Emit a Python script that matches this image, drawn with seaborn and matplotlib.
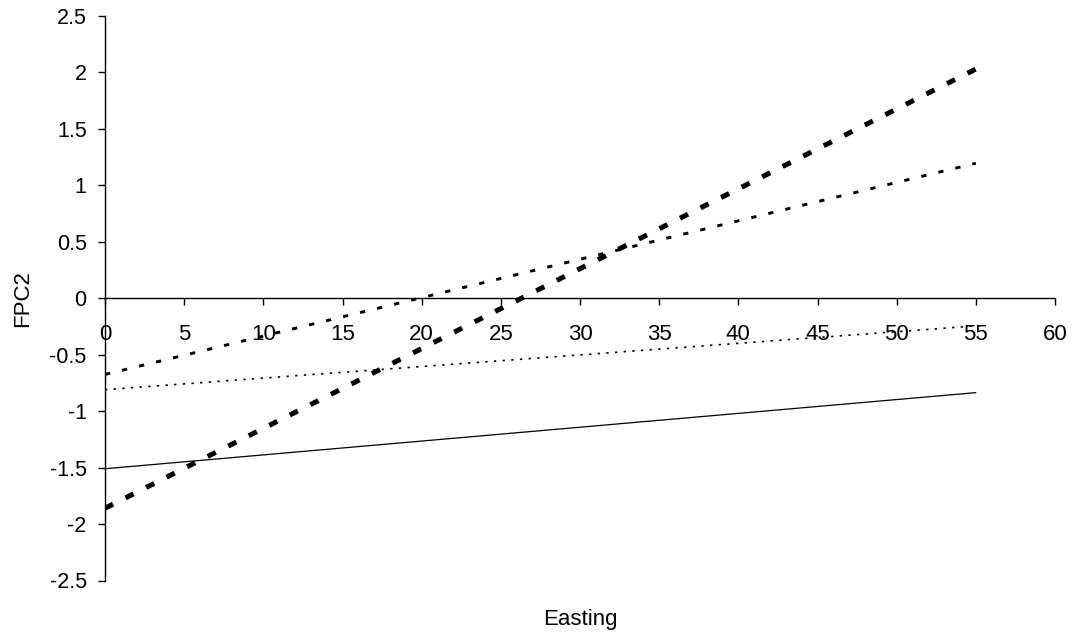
import numpy as np
import pandas as pd
import matplotlib
matplotlib.use("Agg")
import matplotlib.pyplot as plt
import seaborn as sns

# line end points (Easting 0 and 55)
easting = [0, 55]
fpc2_thick_dash = [-1.86, 2.03]
fpc2_dash = [-0.675, 1.196]
fpc2_dot = [-0.81, -0.245]
fpc2_solid = [-1.51, -0.836]

x_ticks = list(range(0, 65, 5))
y_ticks = [-2.5, -2, -1.5, -1, -0.5, 0, 0.5, 1, 1.5, 2, 2.5]
y_tick_labels = ["-2.5", "-2", "-1.5", "-1", "-0.5", "0", "0.5", "1", "1.5", "2", "2.5"]

sns.set_style("ticks")
plt.rcParams['font.family'] = ['Liberation Sans', 'DejaVu Sans']
plt.rcParams['text.color'] = 'black'
plt.rcParams['axes.labelcolor'] = 'black'

fig = plt.figure(figsize=(10.79, 6.39), dpi=100)
ax = fig.add_axes([105 / 1079, 1 - 580.5 / 639, 950 / 1079, 564.5 / 639])

series = [
    (fpc2_solid, dict(color="black", linewidth=0.9, linestyle="-")),
    (fpc2_dot, dict(color="black", linewidth=1.2, linestyle=(0, (1.4, 3.8)))),
    (fpc2_dash, dict(color="black", linewidth=2.1, linestyle=(0, (1.8, 4.2)))),
    (fpc2_thick_dash, dict(color="black", linewidth=3.6, linestyle=(0, (1.8, 2.8)))),
]
for vals, style in series:
    df = pd.DataFrame({"Easting": easting, "FPC2": vals})
    sns.lineplot(data=df, x="Easting", y="FPC2", ax=ax, **style)

ax.set_xlim(0, 60)
ax.set_ylim(-2.5, 2.5)
ax.set_xticks(x_ticks)
ax.set_xticklabels([str(t) for t in x_ticks])
ax.set_yticks(y_ticks)
ax.set_yticklabels(y_tick_labels)

ax.spines['top'].set_visible(False)
ax.spines['right'].set_visible(False)
ax.spines['bottom'].set_position(('data', 0))
for s in ('left', 'bottom'):
    ax.spines[s].set_linewidth(1.0)
    ax.spines[s].set_color("black")

ax.tick_params(axis='x', direction='out', length=5, width=1.0, pad=13.5,
               labelsize=16, colors="black")
ax.tick_params(axis='y', direction='out', length=5, width=1.0, pad=8.2,
               labelsize=15.5, colors="black")

ax.set_xlabel("Easting", fontsize=16, color="black")
ax.set_ylabel("FPC2", fontsize=16, color="black")
ax.xaxis.set_label_coords(0.5, (580.5 - 609.5) / 564.5)
ax.yaxis.set_label_coords((33 - 105) / 950, 0.5)

fig.savefig("out.png", dpi=100)
